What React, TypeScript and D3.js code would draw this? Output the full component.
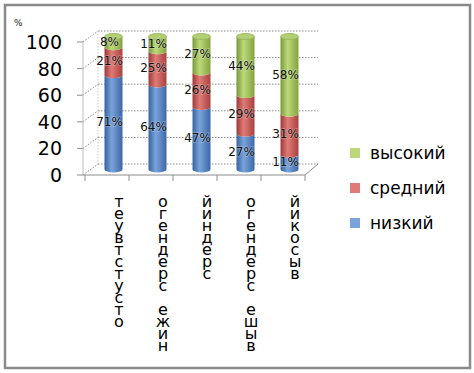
import React from 'react';
import * as d3 from 'd3';

const width = 474;
const height = 373;

// categories (label text as in the chart)
const categories = ['отсутствует', 'ниже среднего', 'средний', 'выше среднего', 'высокий'];
const seriesNames = ['низкий', 'средний', 'высокий'];
const low = [71, 64, 47, 27, 11];
const mid = [21, 25, 26, 29, 31];
const high = [8, 11, 27, 44, 58];
const yTicks = [0, 20, 40, 60, 80, 100];

const colors = {
  низкий: ['#37629c', '#7aa3dc', '#3c68a6'],
  средний: ['#9c3a37', '#e07a76', '#a8423f'],
  высокий: ['#7a983a', '#bcd97a', '#84a33f'],
};
const capColor = '#b3cf73';

const depthX = 13;
const depthY = -11;
const font = '"DejaVu Sans", Verdana, sans-serif';

const x = d3.scaleBand<string>().domain(categories).range([85, 305]).padding(0);
const yFront = d3.scaleLinear().domain([0, 100]).range([175, 42]);
const yBar = (v: number) => yFront(v) + depthY / 2;

const barW = 18;
const rx = barW / 2;
const ry = 3;

const stack = d3.stack<any>().keys(seriesNames);
const table = categories.map((c, i) => ({ cat: c, низкий: low[i], средний: mid[i], высокий: high[i] }));
const layers = stack(table);

function segPath(cx: number, y0: number, y1: number) {
  // y0 = bottom (larger), y1 = top
  const l = cx - rx;
  const r = cx + rx;
  return `M${l},${y1} L${l},${y0} A${rx},${ry} 0 0 0 ${r},${y0} L${r},${y1} A${rx},${ry} 0 0 1 ${l},${y1} Z`;
}

export default function App() {
  const barX = (c: string) => (x(c) as number) + x.bandwidth() / 2 + depthX / 2;
  const backL = 85 + depthX;
  const backR = 305 + depthX;

  return (
    <svg width={width} height={height} style={{ position: 'absolute', left: 0, top: 0, background: '#fff' }}>
      <defs>
        {seriesNames.map((s) => (
          <linearGradient key={s} id={`g-${s}`} x1="0" x2="1" y1="0" y2="0">
            <stop offset="0" stopColor={(colors as any)[s][0]} />
            <stop offset="0.4" stopColor={(colors as any)[s][1]} />
            <stop offset="1" stopColor={(colors as any)[s][2]} />
          </linearGradient>
        ))}
      </defs>

      <rect x={5} y={5} width={465} height={363} fill="none" stroke="#8a8a8a" strokeWidth={2.5} />

      {/* back wall grid */}
      {yTicks.map((t) => (
        <g key={t}>
          <line x1={backL} x2={backR} y1={yFront(t) + depthY} y2={yFront(t) + depthY}
            stroke="#8c8c8c" strokeDasharray="1.5,1.5" />
          <line x1={83} x2={backL} y1={yFront(t)} y2={yFront(t) + depthY} stroke="#8c8c8c" strokeDasharray="1.5,1.5" />
          <line x1={77} x2={83} y1={yFront(t)} y2={yFront(t)} stroke="#8c8c8c" />
          <text x={62} y={yFront(t)} textAnchor="end" dominantBaseline="central"
            fontFamily={font} fontSize={19} fill="#000">{t}</text>
        </g>
      ))}
      <line x1={83} x2={83} y1={yFront(100)} y2={yFront(0)} stroke="#bdbdbd" />
      <line x1={backL} x2={backL} y1={yFront(100) + depthY} y2={yFront(0) + depthY} stroke="#c8c8c8" strokeDasharray="1.5,1.5" />

      {/* floor / x axis */}
      <line x1={83} x2={305} y1={yFront(0)} y2={yFront(0)} stroke="#8c8c8c" />
      <line x1={305} x2={backR} y1={yFront(0)} y2={yFront(0) + depthY} stroke="#8c8c8c" />
      {[...categories.map((c) => x(c) as number), 305].map((tx, i) => (
        <line key={i} x1={tx} x2={tx} y1={yFront(0)} y2={yFront(0) + 6} stroke="#8c8c8c" />
      ))}

      {/* bars */}
      {categories.map((c, i) => {
        const cx = barX(c);
        const topV = layers[layers.length - 1][i][1];
        return (
          <g key={c}>
            {layers.map((layer) => {
              const d = layer[i];
              return (
                <path key={layer.key} d={segPath(cx, yBar(d[0]), yBar(d[1]))}
                  fill={`url(#g-${layer.key})`} />
              );
            })}
            <ellipse cx={cx} cy={yBar(topV)} rx={rx} ry={ry} fill={capColor} stroke="#8fae4f" strokeWidth={0.8} />
          </g>
        );
      })}

      {/* data labels */}
      {categories.map((c, i) =>
        layers.map((layer) => {
          const d = layer[i];
          return (
            <text key={c + layer.key} x={barX(c) - 4} y={(yBar(d[0]) + yBar(d[1])) / 2 + 4}
              textAnchor="middle" fontFamily={font} fontSize={12} fill="#111"
              stroke="#ffffff" strokeOpacity={0.3} strokeWidth={1.5} paintOrder="stroke">
              {d[1] - d[0]}%
            </text>
          );
        })
      )}

      {/* category labels: stacked letters, reversed */}
      {categories.map((c) => {
        const chars = Array.from(c).reverse();
        const cx = (x(c) as number) + x.bandwidth() / 2 + 12;
        return (
          <g key={c}>
            {chars.map((ch, k) => (
              <text key={k} x={cx} y={207 + k * 12} textAnchor="middle"
                fontFamily={font} fontSize={16} fill="#000">{ch}</text>
            ))}
          </g>
        );
      })}

      {/* axis unit */}
      <text x={14} y={26} fontFamily={font} fontSize={9} fill="#222">%</text>

      {/* legend */}
      {[...seriesNames].reverse().map((s, k) => {
        const ly = 153 + k * 35;
        return (
          <g key={s}>
            <rect x={350} y={ly - 5} width={10} height={10} fill={(colors as any)[s][1]} />
            <text x={370} y={ly} dominantBaseline="central" fontFamily={font} fontSize={17} fill="#000">{s}</text>
          </g>
        );
      })}
    </svg>
  );
}
